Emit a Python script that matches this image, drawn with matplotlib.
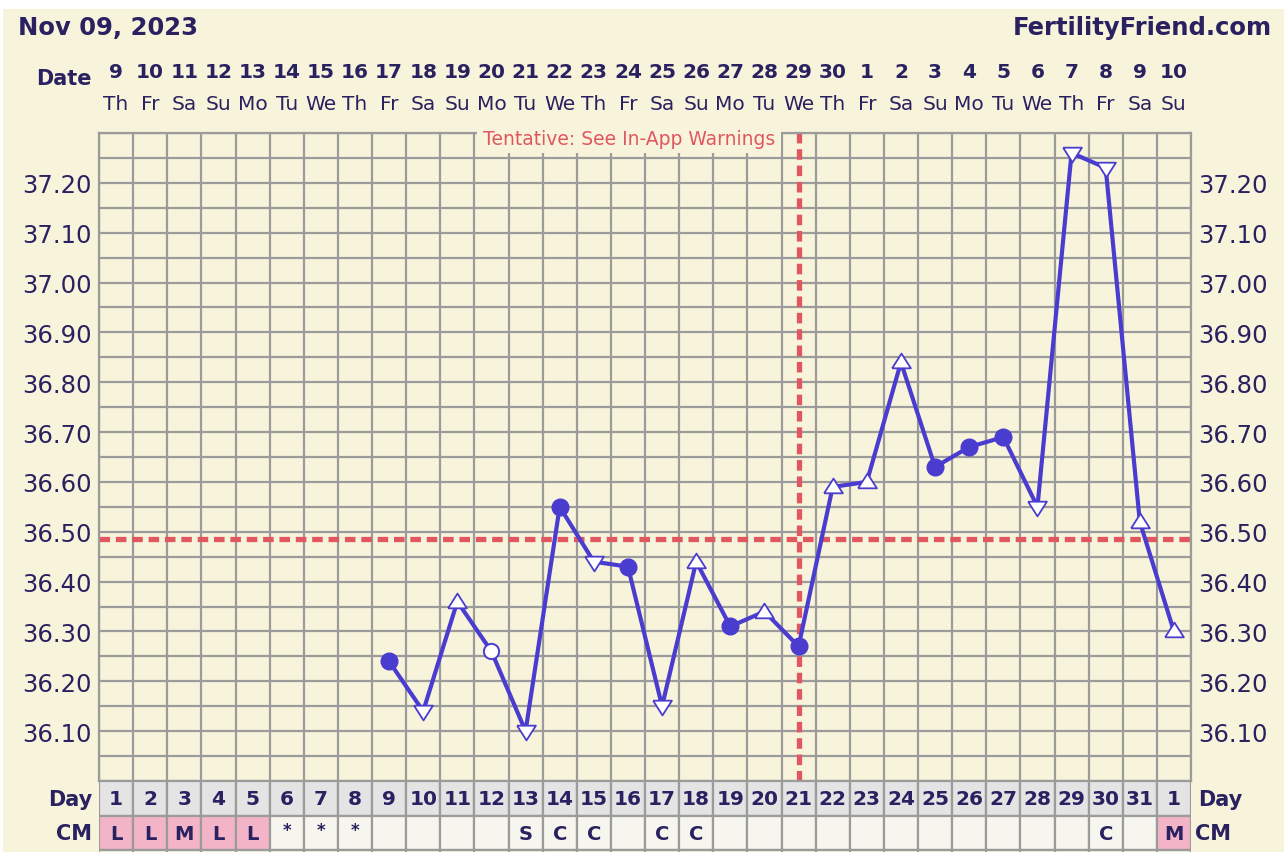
import matplotlib
matplotlib.use("Agg")
import matplotlib.pyplot as plt
import matplotlib.transforms as mtransforms
from matplotlib.patches import Rectangle
import numpy as np

# ---------------- data ----------------
chart_date = "Nov 09, 2023"
site = "FertilityFriend.com"
cycle_days = list(range(1, 33))
day_labels = [str(d) for d in range(1, 32)] + ["1"]
date_labels = [str(d) for d in range(9, 31)] + [str(d) for d in range(1, 11)]
weekday_labels = (["Th", "Fr", "Sa", "Su", "Mo", "Tu", "We"] * 5)[:32]
cm_labels = ["L", "L", "M", "L", "L", "*", "*", "*", "", "", "", "", "S", "C", "C", "",
             "C", "C", "", "", "", "", "", "", "", "", "", "", "", "C", "", "M"]
cm_pink = [True] * 5 + [False] * 26 + [True]

temp_days = list(range(9, 33))
temps = [36.24, 36.14, 36.36, 36.26, 36.10, 36.55, 36.44, 36.43, 36.15, 36.44,
         36.31, 36.34, 36.27, 36.59, 36.60, 36.84, 36.63, 36.67, 36.69, 36.55,
         37.26, 37.23, 36.52, 36.30]
temp_marks = ["filled", "down", "up", "open", "down", "filled", "down", "filled",
              "down", "up", "filled", "up", "filled", "up", "up", "up", "filled",
              "filled", "filled", "down", "down", "down", "up", "up"]
ytick_values = [36.10, 36.20, 36.30, 36.40, 36.50, 36.60, 36.70, 36.80, 36.90,
                37.00, 37.10, 37.20]
coverline_temp = 36.485
ovulation_day = 21
warning_text = "Tentative: See In-App Warnings"

# ---------------- style ----------------
W, H = 1284, 853
CREAM = "#f8f4dc"
NAVY = "#2a2160"
GRID = "#9b9b9b"
LINE = "#4a3ccf"
RED = "#e0575f"
DAYFILL = "#e4e4e4"
CMFILL = "#f6f6ef"
PINK = "#f3b4c7"
FONT = "DejaVu Sans"

fig = plt.figure(figsize=(W / 100, H / 100), dpi=100, facecolor="white")
fig.patches.append(Rectangle((3 / W, 0), 1, 1 - 10 / H, transform=fig.transFigure,
                             facecolor=CREAM, edgecolor="none", zorder=-10))

def px(x0, y0, x1, y1):
    return [x0 / W, (H - y1) / H, (x1 - x0) / W, (y1 - y0) / H]

# main grid axes
ax = fig.add_axes(px(99, 134, 1191, 782))
ax.set_facecolor(CREAM)
ax.set_xlim(0.5, 32.5)
ax.set_ylim(36.00, 37.30)
ax.set_xticks(np.arange(0.5, 33.0, 1.0), minor=True)
ax.set_xticks([])
ax.set_yticks(ytick_values)
ax.set_yticklabels([f"{v:.2f}" for v in ytick_values])
ax.set_yticks(np.arange(36.00, 37.301, 0.05), minor=True)
ax.grid(True, which="both", color=GRID, lw=1.6, zorder=0)
ax.set_axisbelow(True)
ax.tick_params(which="both", length=0)
ax.tick_params(axis="y", labelleft=True, labelright=True, labelsize=17.5,
               labelcolor=NAVY, pad=5.5)
for lab in ax.get_yticklabels():
    lab.set_fontfamily(FONT)
for s in ax.spines.values():
    s.set_color(GRID)
    s.set_linewidth(1.6)

# coverline and ovulation line
ax.axhline(coverline_temp, color=RED, lw=3.8, dashes=(2.0, 1.1), zorder=2)
ax.axvline(ovulation_day, color=RED, lw=3.8, dashes=(2.0, 1.1), zorder=2)
ax.text(ovulation_day - 0.68, 36.00 + 1.30 * 0.992, warning_text, ha="right",
        va="center", fontsize=13.5, color=RED, family=FONT, zorder=4,
        bbox=dict(boxstyle="square,pad=0.3", facecolor=CREAM, edgecolor="none"))

# temperature line
ax.plot(temp_days, temps, color=LINE, lw=3.0, zorder=3, solid_joinstyle="round")
tri_up = [(-1, -0.62), (1, -0.62), (0, 0.95), (-1, -0.62)]
tri_dn = [(-1, 0.62), (1, 0.62), (0, -0.95), (-1, 0.62)]
for d, t, m in zip(temp_days, temps, temp_marks):
    if m == "filled":
        ax.plot(d, t, marker="o", ms=12, mfc=LINE, mec=LINE, ls="none", zorder=5)
    elif m == "open":
        ax.plot(d, t, marker="o", ms=11, mfc="white", mec=LINE, mew=1.4, ls="none", zorder=5)
    elif m == "up":
        ax.plot(d, t, marker=tri_up, ms=13.5, mfc="white", mec=LINE, mew=1.3, ls="none", zorder=5)
    else:
        ax.plot(d, t, marker=tri_dn, ms=13.5, mfc="white", mec=LINE, mew=1.3, ls="none", zorder=5)

# header rows
tr_top = mtransforms.blended_transform_factory(ax.transData, fig.transFigure)
for d, dl, wl in zip(cycle_days, date_labels, weekday_labels):
    ax.text(d, 1 - 73 / H, dl, transform=tr_top, ha="center", va="center",
            fontsize=14.5, fontweight="bold", color=NAVY, family=FONT, clip_on=False)
    ax.text(d, 1 - 105 / H, wl, transform=tr_top, ha="center", va="center",
            fontsize=14.5, color=NAVY, family=FONT, clip_on=False)
fig.text(92 / W, 1 - 79 / H, "Date", ha="right", va="center", fontsize=15,
         fontweight="bold", color=NAVY, family=FONT)
fig.text(18 / W, 1 - 28 / H, chart_date, ha="left", va="center", fontsize=17.5,
         fontweight="bold", color=NAVY, family=FONT)
fig.text(1272 / W, 1 - 28 / H, site, ha="right", va="center", fontsize=17.5,
         fontweight="bold", color=NAVY, family=FONT)

# bottom table (Day / CM rows)
rh = 34.5
tab = fig.add_axes(px(99, 782, 1191, 782 + 3 * rh))
tab.set_xlim(0.5, 32.5)
tab.set_ylim(3, 0)
tab.axis("off")
tab.bar(cycle_days, [1] * 32, bottom=0, width=1, color=DAYFILL, edgecolor=GRID,
        linewidth=1.6, zorder=1)
tab.bar(cycle_days, [1] * 32, bottom=1, width=1,
        color=[PINK if p else CMFILL for p in cm_pink], edgecolor=GRID,
        linewidth=1.6, zorder=1)
tab.bar(cycle_days, [1] * 32, bottom=2, width=1, color=CREAM, edgecolor=GRID,
        linewidth=1.6, zorder=1)
for d, dl, cm in zip(cycle_days, day_labels, cm_labels):
    tab.text(d, 0.52, dl, ha="center", va="center", fontsize=14.5,
             fontweight="bold", color=NAVY, family=FONT, zorder=3)
    if cm == "*":
        tab.text(d, 1.42, cm, ha="center", va="center", fontsize=12,
                 fontweight="bold", color=NAVY, family=FONT, zorder=3)
    elif cm:
        tab.text(d, 1.52, cm, ha="center", va="center", fontsize=14,
                 fontweight="bold", color=NAVY, family=FONT, zorder=3)
off = 7 / 34.125
for yy, lab in [(0.52, "Day"), (1.52, "CM")]:
    tab.text(0.5 - off, yy, lab, ha="right", va="center", fontsize=15,
             fontweight="bold", color=NAVY, family=FONT, clip_on=False)
    tab.text(32.5 + off * (1.0 if lab == "Day" else 0.6), yy, lab, ha="left",
             va="center", fontsize=15, fontweight="bold", color=NAVY,
             family=FONT, clip_on=False)

fig.savefig("out.png", dpi=100, facecolor="white")
